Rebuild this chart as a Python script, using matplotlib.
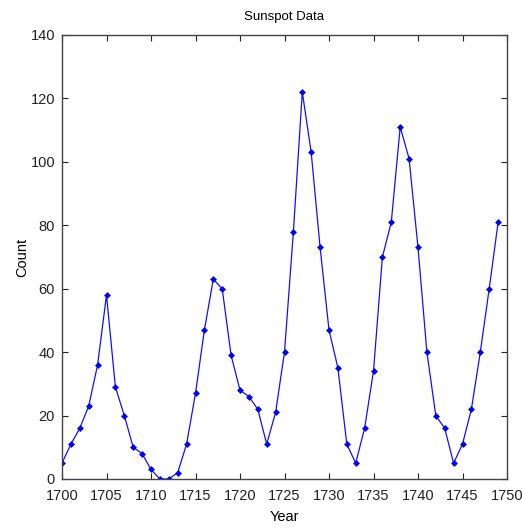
import matplotlib
matplotlib.use("Agg")
import matplotlib.pyplot as plt

years = list(range(1700, 1750))
counts = [5, 11, 16, 23, 36, 58, 29, 20, 10, 8,
          3, 0, 0, 2, 11, 27, 47, 63, 60, 39,
          28, 26, 22, 11, 21, 40, 78, 122, 103, 73,
          47, 35, 11, 5, 16, 34, 70, 81, 111, 101,
          73, 40, 20, 16, 5, 11, 22, 40, 60, 80.9]
xticks = list(range(1700, 1751, 5))
yticks = list(range(0, 141, 20))

plt.rcParams['font.family'] = ['Liberation Sans', 'DejaVu Sans']

fig = plt.figure(figsize=(5.22, 5.30), dpi=100)
ax = fig.add_axes([62/522, 51/530, 445/522, 444/530])
ax.plot(years, counts, color='#1010ff', linewidth=0.9, marker='D',
        markersize=3, markeredgewidth=0.5, markerfacecolor='#0000ff',
        markeredgecolor='#0000ff')
ax.set_xlim(1700, 1750)
ax.set_ylim(0, 140)
ax.set_xticks(xticks)
ax.set_yticks(yticks)
ax.tick_params(direction='in', top=True, right=True, length=4, width=0.8,
               labelsize=10.5, colors='#222222')
ax.tick_params(axis='x', pad=7)
ax.tick_params(axis='y', pad=5)
for s in ax.spines.values():
    s.set_color('#444444')
    s.set_linewidth(1.0)
ax.set_title('Sunspot Data', fontsize=9.5, pad=11)
ax.set_xlabel('Year', fontsize=10.5, labelpad=5)
ax.set_ylabel('Count', fontsize=10.5, labelpad=1)
fig.savefig('out.png', dpi=100)
